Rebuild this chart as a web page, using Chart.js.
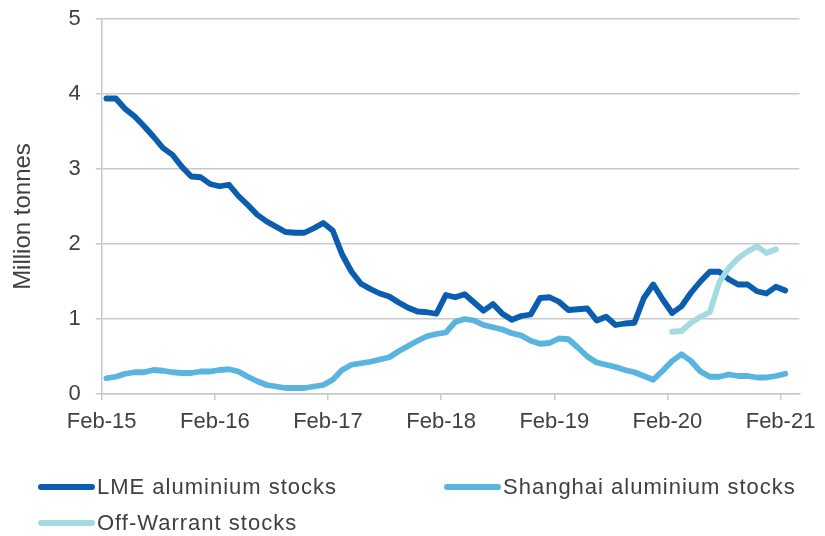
<!DOCTYPE html>
<html>
<head>
<meta charset="utf-8">
<script src="https://cdn.jsdelivr.net/npm/chart.js@4.4.1/dist/chart.umd.min.js"></script>
<style>
  html, body { margin: 0; padding: 0; background: #ffffff; }
  #wrap { position: relative; width: 825px; height: 536px; overflow: hidden; }
  #chart { position: absolute; left: 0; top: 0; }
  .lg-item { position: absolute; display: flex; align-items: center; height: 30px;
    font-family: "Liberation Sans", Arial, sans-serif; font-size: 22px; letter-spacing: 1px;
    color: #404040; white-space: nowrap; }
  .lg-line { display: inline-block; width: 57px; height: 6px; border-radius: 3px; margin-right: 2px; }
</style>
</head>
<body>
<div id="wrap">
  <canvas id="chart" width="825" height="536"></canvas>
  <div id="legend"></div>
</div>
<script>
// ---- data (monthly, Feb-15 .. Feb-21) ----
const tickLabels = ['Feb-15', 'Feb-16', 'Feb-17', 'Feb-18', 'Feb-19', 'Feb-20', 'Feb-21'];
const seriesNames = ['LME aluminium stocks', 'Shanghai aluminium stocks', 'Off-Warrant stocks'];
const seriesColors = ['#0b5eaf', '#5ab4e0', '#a3dbe0'];

const lmeStocks = [
  3.94, 3.94, 3.80, 3.70, 3.57, 3.43, 3.28, 3.19, 3.03, 2.90, 2.89, 2.80,
  2.77, 2.79, 2.64, 2.52, 2.39, 2.30, 2.23, 2.16, 2.15, 2.15, 2.21, 2.28,
  2.18, 1.86, 1.63, 1.47, 1.40, 1.34, 1.30, 1.22, 1.15, 1.10, 1.09, 1.07,
  1.32, 1.29, 1.33, 1.22, 1.11, 1.20, 1.07, 0.99, 1.04, 1.06, 1.28, 1.29,
  1.23, 1.12, 1.13, 1.14, 0.98, 1.03, 0.92, 0.94, 0.95, 1.28, 1.46, 1.26,
  1.08, 1.17, 1.35, 1.50, 1.63, 1.63, 1.53, 1.46, 1.46, 1.37, 1.34, 1.43,
  1.38
];
const shanghaiStocks = [
  0.21, 0.23, 0.27, 0.29, 0.29, 0.32, 0.31, 0.29, 0.28, 0.28, 0.30, 0.30,
  0.32, 0.33, 0.30, 0.23, 0.17, 0.12, 0.10, 0.08, 0.08, 0.08, 0.10, 0.12,
  0.19, 0.32, 0.39, 0.41, 0.43, 0.46, 0.49, 0.57, 0.64, 0.71, 0.77, 0.80,
  0.82, 0.96, 1.00, 0.98, 0.92, 0.89, 0.86, 0.81, 0.78, 0.71, 0.67, 0.68,
  0.74, 0.73, 0.62, 0.50, 0.42, 0.39, 0.36, 0.32, 0.29, 0.24, 0.19, 0.31,
  0.44, 0.53, 0.44, 0.30, 0.23, 0.23, 0.26, 0.24, 0.24, 0.22, 0.22, 0.24,
  0.27
];
const offWarrantStart = 60; // Feb-20
const offWarrantStocks = [0.83, 0.84, 0.95, 1.03, 1.09, 1.49, 1.68, 1.81, 1.90, 1.97, 1.88, 1.93];

// monthly points plotted at mid-month on a month-count axis
function toPoints(values, start) {
  return values.map((v, i) => ({ x: start + i + 0.5, y: v }));
}

const FONT = { family: '"Liberation Sans", Arial, sans-serif', size: 22 };
const TEXT = '#404040';
const GRID = '#c9c9c9';

const datasets = [
  { label: seriesNames[0], data: toPoints(lmeStocks, 0), borderColor: seriesColors[0] },
  { label: seriesNames[1], data: toPoints(shanghaiStocks, 0), borderColor: seriesColors[1] },
  { label: seriesNames[2], data: toPoints(offWarrantStocks, offWarrantStart), borderColor: seriesColors[2] }
].map(d => Object.assign(d, {
  backgroundColor: d.borderColor, borderWidth: 5.8, pointRadius: 0, tension: 0,
  borderJoinStyle: 'round', borderCapStyle: 'round', fill: false
}));

// draw order: Shanghai first, then LME, then Off-warrant on top
datasets[0].order = 2; datasets[1].order = 3; datasets[2].order = 1;

const htmlLegend = {
  id: 'htmlLegend',
  afterUpdate(chart) {
    const box = document.getElementById('legend');
    box.innerHTML = '';
    const pos = [[38, 472], [444, 472], [38, 508]];
    chart.data.datasets.forEach((ds, i) => {
      const item = document.createElement('div');
      item.className = 'lg-item';
      item.style.left = pos[i][0] + 'px';
      item.style.top = pos[i][1] + 'px';
      const line = document.createElement('span');
      line.className = 'lg-line';
      line.style.background = ds.borderColor;
      const txt = document.createElement('span');
      txt.textContent = ds.label;
      item.appendChild(line);
      item.appendChild(txt);
      box.appendChild(item);
    });
  }
};

new Chart(document.getElementById('chart'), {
  type: 'line',
  data: { datasets },
  plugins: [htmlLegend],
  options: {
    responsive: false,
    animation: false,
    layout: { padding: { top: 19, right: 22, left: 0, bottom: 0 } },
    plugins: { legend: { display: false }, tooltip: { enabled: false } },
    scales: {
      x: {
        type: 'linear', min: 0, max: 74,
        afterFit: s => { s.height = 142; },
        grid: { drawOnChartArea: false, drawTicks: true, tickLength: 6, color: GRID, lineWidth: 1.5 },
        border: { color: GRID, width: 1.5 },
        ticks: {
          stepSize: 12, includeBounds: false, autoSkip: false, maxRotation: 0, padding: 9,
          color: TEXT, font: FONT,
          callback: v => (v % 12 === 0 ? (tickLabels[v / 12] || '') : '')
        }
      },
      y: {
        min: 0, max: 5,
        afterFit: s => { s.width = 101.7; s.paddingTop = 8; s.paddingBottom = 8; },
        grid: { color: GRID, lineWidth: 1.5, tickLength: 6 },
        border: { color: GRID, width: 1.5 },
        ticks: { stepSize: 1, padding: 15, color: TEXT, font: FONT },
        title: { display: true, text: 'Million tonnes   ', color: TEXT, font: { family: FONT.family, size: 24 }, padding: { top: 9, bottom: 0 } }
      }
    }
  }
});
</script>
</body>
</html>
